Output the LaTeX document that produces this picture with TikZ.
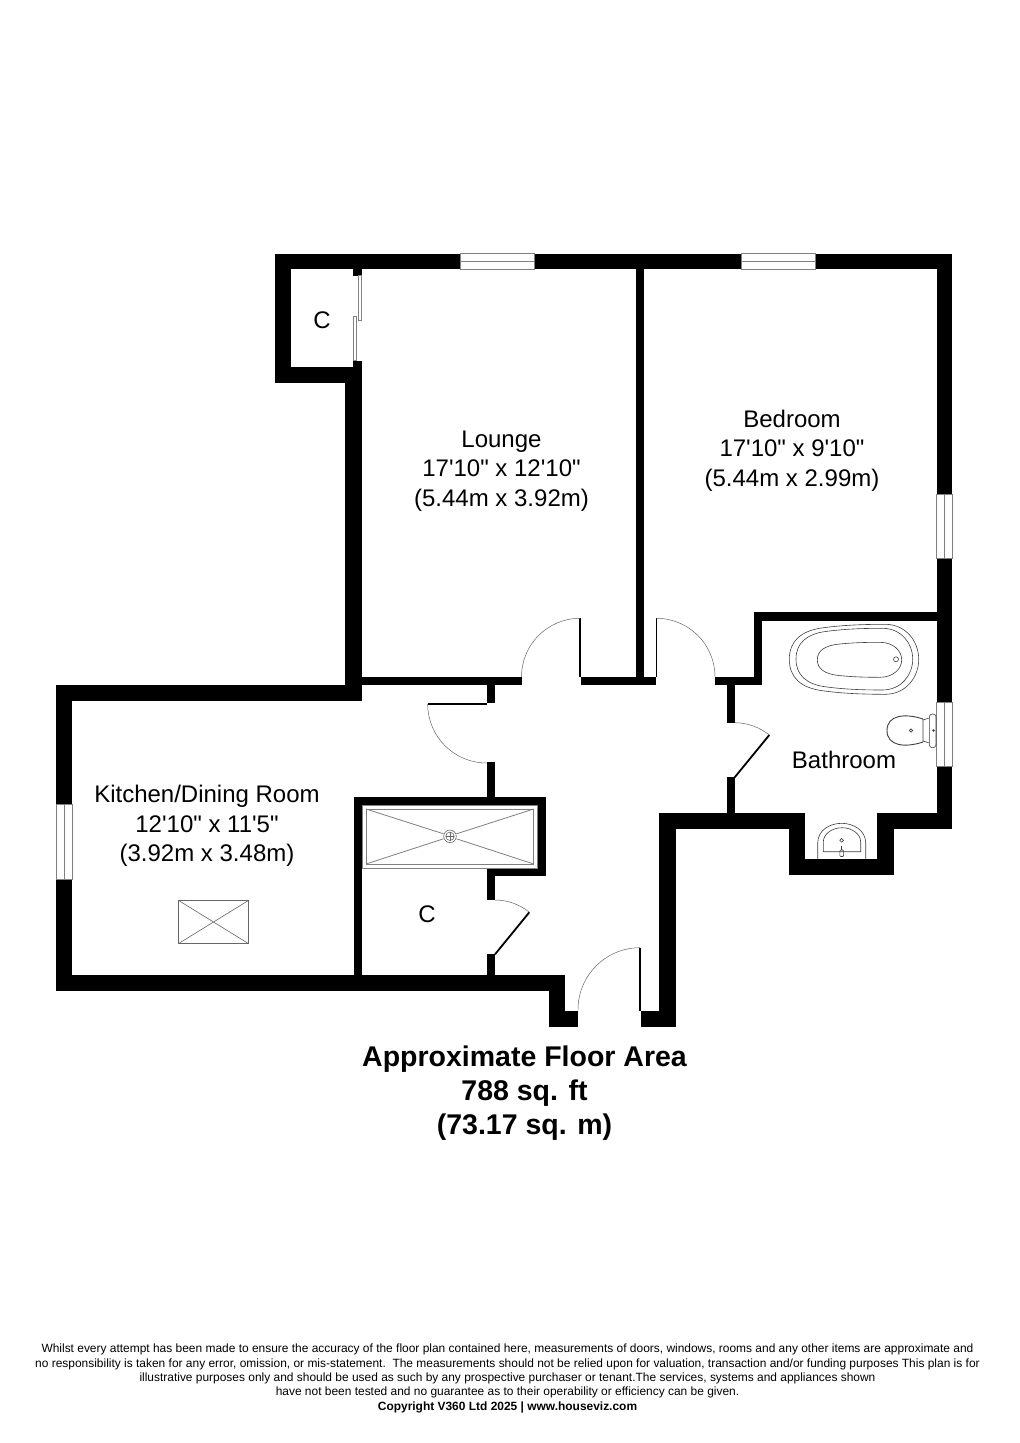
\documentclass[tikz,border=0pt]{standalone}
\usepackage{fontspec}
\usepackage{tikz}
\newfontfamily\planfont{Liberation Sans}

\begin{document}
\begin{tikzpicture}[x=1pt, y=-1pt]
    \tikzset{
        room_label/.style={align=center, inner sep=0pt, font=\planfont\fontsize{24}{29.3}\selectfont},
        area_label/.style={align=center, inner sep=0pt, font=\planfont\bfseries\fontsize{28.5}{34}\selectfont},
        note_label/.style={align=center, inner sep=0pt, font=\planfont\fontsize{11.95}{14.4}\selectfont},
        window_pane/.style={draw=black!50, fill=white, line width=0.5pt},
        door_leaf/.style={draw=black, line width=1.5pt},
        door_swing/.style={draw=black!60, line width=0.5pt},
        fixture_line/.style={draw=black!75, line width=0.6pt},
        tray_line/.style={draw=black!50, line width=0.8pt}
    }
    \useasboundingbox[fill=white] (0,0) rectangle (1020,1443);

    % walls
    \foreach \xa/\ya/\xb/\yb in {
        274.5/253.5/952.3/269.3, 274.5/253.5/290.7/383, 274.5/366.7/361.7/383,
        353.3/269/361.7/275.7, 353.3/360.7/361.7/367, 345.3/383/361.7/700.7,
        56.3/684.7/361.7/700.7, 56.3/684.7/72.3/990.7, 56.3/974.7/565.3/990.7,
        549/975/565.3/1027.3, 549/1011/578.3/1027.3, 641/1011/675.7/1027.3,
        659.3/812.7/675.7/1027.3, 659.3/812.5/805.3/828.5, 789.3/812.5/805.3/875,
        789.3/859/894/875, 877.3/812.5/894/875, 877.3/812.5/952.3/828.5,
        936.7/253.5/952.3/828.5, 754/612.3/936.7/620.7, 754/612.3/761.7/685,
        715/677.3/761.7/685, 726.7/685/734.7/722.7, 726.7/777.3/734.7/812.7,
        635.7/269/643.7/685, 580.7/677.3/655.7/685, 361.7/677.3/521.7/685,
        486.7/685/495/703.3, 486.7/761.7/495/797, 354.3/797/545.7/805.3,
        537.3/797/545.7/876, 486.7/868.3/545.7/876, 354.3/797/362.3/975,
        486.7/876/495/900, 486.7/954.3/495/975
    } {
        \fill[black] (\xa,\ya) rectangle (\xb,\yb);
    }

    % windows
    \foreach \xa/\xb in {460/534, 741/815} {
        \draw[window_pane] (\xa,253.5) rectangle (\xb,269.3);
        \draw[window_pane] (\xa,261.4) -- (\xb,261.4);
    }
    \foreach \xa/\xb/\ya/\yb in {936.7/952.3/494/558.7, 936.7/952.3/702.3/766.7, 56.3/72.3/804.3/879.3} {
        \draw[window_pane] (\xa,\ya) rectangle (\xb,\yb);
        \draw[window_pane] ({(\xa+\xb)/2},\ya) -- ({(\xa+\xb)/2},\yb);
    }

    % sliding door of the cupboard
    \draw[window_pane] (358.3,275.7) rectangle (361.7,320.7);
    \draw[window_pane] (353.3,316) rectangle (356.7,360.7);

    % doors
    \draw[door_leaf] (580,618.3) -- (580,677.3);
    \draw[door_swing] (580,618.3) arc[start angle=-90, end angle=-180, radius=58.5];
    \draw[door_leaf] (656.5,618.3) -- (656.5,677.3);
    \draw[door_swing] (656.5,618.3) arc[start angle=-90, end angle=0, radius=58.5];
    \draw[door_leaf] (427.7,704) -- (486.7,704);
    \draw[door_swing] (427.7,704) arc[start angle=180, end angle=90, radius=59];
    \draw[door_leaf] (640,947.7) -- (640,1011);
    \draw[door_swing] (640,947.7) arc[start angle=-90, end angle=-180, radius=62];
    \draw[door_leaf, line width=1.8pt] (734.7,777.3) -- (769.3,735);
    \draw[door_swing] (734.7,722.7) arc[start angle=-90, end angle=-50.6, radius=54.6];
    \draw[door_leaf, line width=1.8pt] (495,954.3) -- (529.3,912.3);
    \draw[door_swing] (495,900) arc[start angle=-90, end angle=-50.6, radius=54.3];

    % bath
    \foreach \xa/\xb/\ya/\yb in {789.3/918.7/624.3/694.3, 796/912.7/628.3/690, 817.3/901.7/642.3/677.3} {
        \pgfmathsetmacro{\wd}{\xb-\xa}
        \pgfmathsetmacro{\ht}{\yb-\ya}
        \draw[fixture_line] (\xa,{\ya+0.5*\ht})
            .. controls (\xa,{\ya+0.24*\ht}) and ({\xa+0.09*\wd},{\ya+0.09*\ht}) .. ({\xa+0.26*\wd},{\ya+0.05*\ht})
            .. controls ({\xa+0.42*\wd},{\ya+0.01*\ht}) and ({\xa+0.58*\wd},\ya) .. ({\xa+0.74*\wd},\ya)
            .. controls ({\xa+0.9*\wd},\ya) and (\xb,{\ya+0.24*\ht}) .. (\xb,{\ya+0.5*\ht})
            .. controls (\xb,{\yb-0.24*\ht}) and ({\xa+0.9*\wd},\yb) .. ({\xa+0.74*\wd},\yb)
            .. controls ({\xa+0.58*\wd},\yb) and ({\xa+0.42*\wd},{\yb-0.01*\ht}) .. ({\xa+0.26*\wd},{\yb-0.05*\ht})
            .. controls ({\xa+0.09*\wd},{\yb-0.09*\ht}) and (\xa,{\yb-0.24*\ht}) .. cycle;
    }
    \draw[fixture_line] (896,659.3) circle[radius=2.5];

    % toilet
    \draw[fixture_line, line width=0.9pt] (923,719) -- (923,742) .. controls (905,748) and (887,746) .. (887,730.5)
        .. controls (887,715) and (905,713) .. cycle;
    \draw[fixture_line, rounded corners=3pt] (929.3,714) rectangle (936,747.7);
    \draw[fixture_line] (923,720) -- (929.3,718);
    \draw[fixture_line] (923,741) -- (929.3,743);
    \draw[fixture_line] (911,730.5) circle[radius=1.6];
    \draw[fixture_line] (933.5,730.5) circle[radius=0.9];

    % basin
    \draw[fixture_line] (817.7,859) -- (817.7,843) .. controls (817.7,830) and (830,823.3) .. (841.7,823.3)
        .. controls (853,823.3) and (865.7,830) .. (865.7,843) -- (865.7,859);
    \draw[fixture_line] (823.3,851.7) -- (823.3,842) .. controls (823.3,834) and (832,827.7) .. (842,827.7)
        .. controls (852,827.7) and (860.7,834) .. (860.7,842) -- (860.7,851.7) -- cycle;
    \draw[fixture_line] (841.7,840.3) circle[radius=1.9];
    \draw[fixture_line, rounded corners=1pt] (839.8,850) rectangle (843.6,856.5);
    \draw[fixture_line] (841.7,846) -- (841.7,850);

    % shower tray
    \draw[tray_line] (362.3,805.3) rectangle (537.3,868.3);
    \draw[tray_line] (366,809) rectangle (533.7,864);
    \draw[tray_line] (366,809) -- (443.5,833.8);
    \draw[tray_line] (533.7,809) -- (456.5,833.8);
    \draw[tray_line] (366,864) -- (443.5,838.8);
    \draw[tray_line] (533.7,864) -- (456.5,838.8);
    \draw[fixture_line, draw=black!60] (450,836.3) circle[radius=6.3];
    \draw[fixture_line, draw=black!60] (450,836.3) circle[radius=4.2];
    \draw[fixture_line, draw=black!60] (445.8,836.3) -- (454.2,836.3);
    \draw[fixture_line, draw=black!60] (450,832.1) -- (450,840.5);

    % skylight
    \draw[fixture_line, draw=black!60] (178.3,900.3) rectangle (248.7,943.7);
    \draw[fixture_line, draw=black!60] (178.3,900.3) -- (248.7,943.7);
    \draw[fixture_line, draw=black!60] (178.3,943.7) -- (248.7,900.3);

    % labels
    \node[room_label] (lounge) at (501.5,471) {Lounge\\17'10" x 12'10"\\(5.44m x 3.92m)};
    \node[room_label] (bedroom) at (792,450.5) {Bedroom\\17'10" x 9'10"\\(5.44m x 2.99m)};
    \node[room_label] (kitchen) at (207,826) {Kitchen/Dining Room\\12'10" x 11'5"\\(3.92m x 3.48m)};
    \node[room_label] (bathroom) at (844,760) {Bathroom};
    \node[room_label] (cupboard_top) at (322,320) {C};
    \node[room_label] (cupboard_low) at (427,914) {C};
    \node[area_label] (area) at (524.5,1093) {Approximate Floor Area\\788 sq. ft\\(73.17 sq. m)};
    \node[note_label] (note) at (507.5,1378.5) {Whilst every attempt has been made to ensure the accuracy of the floor plan contained here, measurements of doors, windows, rooms and any other items are approximate and\\
        no responsibility is taken for any error, omission, or mis-statement.\ \ The measurements should not be relied upon for valuation, transaction and/or funding purposes This plan is for\\
        illustrative purposes only and should be used as such by any prospective purchaser or tenant.The services, systems and appliances shown\\
        have not been tested and no guarantee as to their operability or efficiency can be given.\\
        \textbf{Copyright V360 Ltd 2025 | www.houseviz.com}};
\end{tikzpicture}
\end{document}
